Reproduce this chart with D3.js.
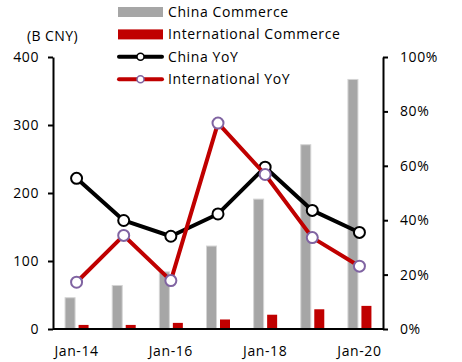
<!DOCTYPE html>
<html>
<head>
<meta charset="utf-8">
<script src="https://cdn.jsdelivr.net/npm/d3@7"></script>
<style>
  body { margin: 0; background: #fff; }
  svg text { font-family: "Open Sans", sans-serif; font-size: 14px; fill: #000; }
</style>
</head>
<body>
<div id="chart"></div>
<script>
// data
const years = ['Jan-14', 'Jan-15', 'Jan-16', 'Jan-17', 'Jan-18', 'Jan-19', 'Jan-20'];
const chinaCommerce = [46, 64, 84, 122, 191, 271, 367];
const intlCommerce = [6, 6, 9, 14, 21, 29, 34];
const chinaYoY = [55.4, 39.9, 34.1, 42.3, 59.5, 43.6, 35.5];
const intlYoY = [17.2, 34.4, 17.8, 75.7, 56.8, 33.6, 23.1];
const leftTicks = [0, 100, 200, 300, 400];
const rightTicks = [0, 20, 40, 60, 80, 100];
const xLabels = ['Jan-14', 'Jan-16', 'Jan-18', 'Jan-20'];

const width = 462, height = 362;
const margin = {top: 57, right: 79, bottom: 33, left: 53};
const innerW = width - margin.left - margin.right;
const innerH = height - margin.top - margin.bottom;

const svg = d3.select('#chart').append('svg')
    .attr('width', width)
    .attr('height', height);

const chart = svg.append('g')
    .attr('transform', `translate(${margin.left},${margin.top})`);

const x = d3.scaleBand().domain(years).range([0, innerW]);
const yL = d3.scaleLinear().domain([0, 400]).range([innerH, 0]);
const yR = d3.scaleLinear().domain([0, 100]).range([innerH, 0]);

const barW = 10, gap = 4;

// bars
chart.selectAll('.bar-china')
    .data(years)
  .join('rect')
    .attr('class', 'bar-china')
    .attr('x', d => x(d) + x.bandwidth() / 2 - barW - gap / 2 + 0.5)
    .attr('y', (d, i) => yL(chinaCommerce[i]))
    .attr('width', barW)
    .attr('height', (d, i) => innerH - yL(chinaCommerce[i]))
    .attr('fill', '#a6a6a6')
    .attr('stroke', '#d4d4d4')
    .attr('stroke-width', 1);

chart.selectAll('.bar-intl')
    .data(years)
  .join('rect')
    .attr('class', 'bar-intl')
    .attr('x', d => x(d) + x.bandwidth() / 2 + gap / 2)
    .attr('y', (d, i) => yL(intlCommerce[i]))
    .attr('width', barW)
    .attr('height', (d, i) => innerH - yL(intlCommerce[i]))
    .attr('fill', '#c00000');

// axes
const axisL = d3.axisLeft(yL).tickValues(leftTicks).tickSize(5).tickSizeOuter(0).tickPadding(9);
const axisR = d3.axisRight(yR).tickValues(rightTicks).tickSize(5).tickSizeOuter(0).tickPadding(12)
    .tickFormat(d => d + '%');
const axisB = d3.axisBottom(x).tickValues(xLabels).tickSize(0).tickPadding(17);

const gL = chart.append('g').call(axisL);
const gR = chart.append('g').attr('transform', `translate(${innerW},0)`).call(axisR);
const gB = chart.append('g').attr('transform', `translate(0,${innerH})`).call(axisB);

[gL, gR, gB].forEach(g => {
  g.select('.domain').attr('stroke', '#000').attr('stroke-width', 2);
  g.selectAll('.tick line').attr('stroke', '#000').attr('stroke-width', 2);
  g.selectAll('.tick text').attr('font-family', null).attr('font-size', null)
    .style('font-size', '14px').style('letter-spacing', '0.6px');
});
gB.select('.domain').attr('d', `M0,0H${innerW}`);

// YoY lines
const line = vals => d3.line()
    .x((d, i) => x(years[i]) + x.bandwidth() / 2)
    .y(d => yR(d))(vals);

const series = [
  {vals: chinaYoY, color: '#000', marker: '#000'},
  {vals: intlYoY, color: '#c00000', marker: '#8064a2'}
];

series.forEach(s => {
  chart.append('path')
      .attr('d', line(s.vals))
      .attr('fill', 'none')
      .attr('stroke', s.color)
      .attr('stroke-width', 4)
      .attr('stroke-linejoin', 'round');
  chart.selectAll(null)
      .data(s.vals)
    .join('circle')
      .attr('cx', (d, i) => x(years[i]) + x.bandwidth() / 2)
      .attr('cy', d => yR(d))
      .attr('r', 5.5)
      .attr('fill', '#fff')
      .attr('stroke', s.marker)
      .attr('stroke-width', 2);
});

// unit label
svg.append('text')
    .attr('x', 27)
    .attr('y', 41)
    .style('letter-spacing', '0.4px')
    .text('(B CNY)');

// legend
const legendData = [
  {name: 'China Commerce', type: 'bar', color: '#a6a6a6'},
  {name: 'International Commerce', type: 'bar', color: '#c00000'},
  {name: 'China YoY', type: 'line', color: '#000', marker: '#000'},
  {name: 'International YoY', type: 'line', color: '#c00000', marker: '#8064a2'}
];

const legend = svg.append('g').attr('transform', 'translate(118,12)');
const items = legend.selectAll('.legend-item')
    .data(legendData)
  .join('g')
    .attr('class', 'legend-item')
    .attr('transform', (d, i) => `translate(0,${i * 22.4})`);

items.filter(d => d.type == 'bar').append('rect')
    .attr('x', 0).attr('y', -5)
    .attr('width', 45).attr('height', 10)
    .attr('fill', d => d.color);

items.filter(d => d.type == 'line').append('line')
    .attr('x1', 1).attr('x2', 44)
    .attr('stroke', d => d.color)
    .attr('stroke-width', 4)
    .attr('stroke-linecap', 'round');

items.filter(d => d.type == 'line').append('circle')
    .attr('cx', 22.5).attr('r', 3.5)
    .attr('fill', '#fff')
    .attr('stroke', d => d.marker)
    .attr('stroke-width', 1.5);

items.append('text')
    .attr('x', 50)
    .attr('dy', '0.35em')
    .style('letter-spacing', '0.6px')
    .text(d => d.name);
</script>
</body>
</html>
